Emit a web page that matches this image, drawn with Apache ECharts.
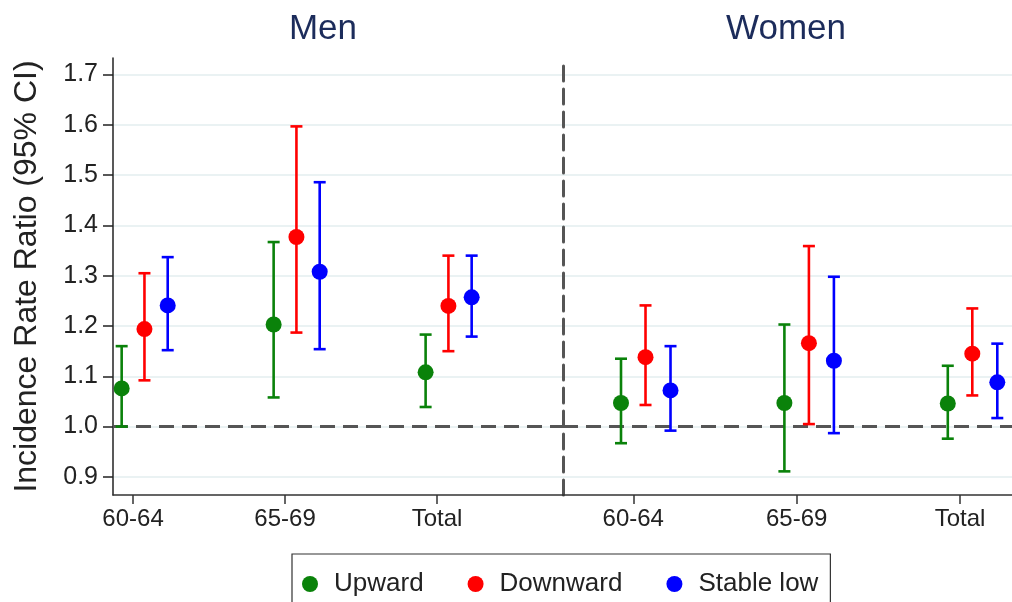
<!DOCTYPE html>
<html>
<head>
<meta charset="utf-8">
<script src="https://cdn.jsdelivr.net/npm/echarts@6/dist/echarts.min.js"></script>
<style>
  html, body { margin: 0; padding: 0; background: #fff; }
  #chart { width: 1012px; height: 602px; }
</style>
</head>
<body>
<div id="chart"></div>
<script>
// ---- data (Men: first three, Women: last three) ----
const categories = ['60-64', '65-69', 'Total'];
const panels = ['Men', 'Women'];
const seriesNames = ['Upward', 'Downward', 'Stable low'];
const yTicks = [0.9, 1.0, 1.1, 1.2, 1.3, 1.4, 1.5, 1.6, 1.7];

const upwardEst  = [1.076, 1.203, 1.108, 1.047, 1.047, 1.046];
const upwardLow  = [1.000, 1.058, 1.039, 0.967, 0.911, 0.976];
const upwardHigh = [1.160, 1.367, 1.183, 1.135, 1.203, 1.121];

const downwardEst  = [1.194, 1.377, 1.240, 1.138, 1.166, 1.145];
const downwardLow  = [1.092, 1.187, 1.150, 1.043, 1.005, 1.062];
const downwardHigh = [1.305, 1.597, 1.340, 1.241, 1.359, 1.235];

const stableEst  = [1.241, 1.308, 1.257, 1.072, 1.131, 1.088];
const stableLow  = [1.152, 1.154, 1.179, 0.992, 0.987, 1.017];
const stableHigh = [1.337, 1.486, 1.340, 1.160, 1.298, 1.165];

// ---- styles / layout ----
const colors = ['#0a820a', '#ff0000', '#0000ff'];
const FONT = '"Liberation Sans", Arial, Helvetica, sans-serif';
const est = [upwardEst, downwardEst, stableEst];
const low = [upwardLow, downwardLow, stableLow];
const high = [upwardHigh, downwardHigh, stableHigh];
const offsets = [-0.075, 0.075, 0.228];
const xRanges = [[0.868, 3.829], [0.57, 3.318]];
const yMin = 0.864, yMax = 1.733;
const DASH = { color: '#555555', width: 3, type: [15, 8] };

const chart = echarts.init(document.getElementById('chart'), null, { renderer: 'canvas' });

const grids = [
  { left: 113, top: 58, width: 450, height: 437 },
  { left: 563, top: 58, width: 449, height: 437 }
];

const xAxes = panels.map((p, gi) => ({
  type: 'value', gridIndex: gi, min: xRanges[gi][0], max: xRanges[gi][1],
  axisLine: { show: true, onZero: false, lineStyle: { color: '#333', width: 1.5 } },
  axisTick: { show: true, length: 9, customValues: [1, 2, 3], lineStyle: { color: '#333', width: 1.5 } },
  axisLabel: {
    show: true, customValues: [1, 2, 3], margin: 12,
    formatter: v => categories[Math.round(v) - 1] || '',
    fontFamily: FONT, fontSize: 24, color: '#222'
  },
  splitLine: { show: false }
}));

const yAxes = panels.map((p, gi) => ({
  type: 'value', gridIndex: gi, min: yMin, max: yMax,
  name: gi === 0 ? 'Incidence Rate Ratio (95% CI)' : '',
  nameLocation: 'middle', nameGap: 70,
  nameTextStyle: { fontFamily: FONT, fontSize: 32, color: '#222' },
  axisLine: gi === 0
    ? { show: true, lineStyle: { color: '#222', width: 1.5 } }
    : { show: true, onZero: false, lineStyle: DASH },
  axisTick: { show: gi === 0, length: 10, customValues: yTicks, lineStyle: { color: '#222', width: 1.5 } },
  axisLabel: {
    show: gi === 0, customValues: yTicks, margin: 15,
    formatter: v => v.toFixed(1),
    fontFamily: FONT, fontSize: 25, color: '#222'
  },
  splitLine: { show: true, lineStyle: { color: '#e3eeef', width: 1.5 } }
}));

const series = [];
// points
seriesNames.forEach((name, si) => {
  panels.forEach((p, gi) => {
    const data = categories.map((c, ci) => [ci + 1 + offsets[si], est[si][gi * 3 + ci]]);
    const s = {
      name, type: 'scatter', xAxisIndex: gi, yAxisIndex: gi,
      symbol: 'circle', symbolSize: 16, z: 5,
      itemStyle: { color: colors[si], opacity: 1 },
      emphasis: { disabled: true },
      data
    };
    if (si === 0) {
      s.markLine = {
        silent: true, symbol: ['none', 'none'], label: { show: false },
        lineStyle: DASH,
        data: [{ yAxis: 1.0 }], z: 3
      };
    }
    series.push(s);
  });
});
// error bars
seriesNames.forEach((name, si) => {
  panels.forEach((p, gi) => {
    const data = categories.map((c, ci) => [ci + 1 + offsets[si], low[si][gi * 3 + ci], high[si][gi * 3 + ci]]);
    series.push({
      name, type: 'custom', xAxisIndex: gi, yAxisIndex: gi, z: 4,
      itemStyle: { color: colors[si] },
      renderItem: (params, api) => {
        const x = api.value(0);
        const a = api.coord([x, api.value(1)]);
        const b = api.coord([x, api.value(2)]);
        const hw = 6;
        const st = { stroke: colors[si], lineWidth: 2.6 };
        return {
          type: 'group',
          children: [
            { type: 'line', shape: { x1: a[0], y1: a[1], x2: b[0], y2: b[1] }, style: st },
            { type: 'line', shape: { x1: a[0] - hw, y1: a[1], x2: a[0] + hw, y2: a[1] }, style: st },
            { type: 'line', shape: { x1: b[0] - hw, y1: b[1], x2: b[0] + hw, y2: b[1] }, style: st }
          ]
        };
      },
      data
    });
  });
});

chart.setOption({
  animation: false,
  backgroundColor: '#ffffff',
  title: [
    { text: panels[0], left: 323, top: 12, padding: 0, textAlign: 'center',
      textStyle: { fontFamily: FONT, fontSize: 35, fontWeight: 'normal', color: '#1c2c5b' } },
    { text: panels[1], left: 786, top: 12, padding: 0, textAlign: 'center',
      textStyle: { fontFamily: FONT, fontSize: 35, fontWeight: 'normal', color: '#1c2c5b' } }
  ],
  legend: {
    data: seriesNames.map((n, i) => ({ name: n, icon: 'circle', itemStyle: { color: colors[i] } })),
    left: 292, top: 554, orient: 'horizontal',
    itemWidth: 16, itemHeight: 16, itemGap: 44,
    padding: [17, 12, 17, 10],
    borderColor: '#333', borderWidth: 1.2, backgroundColor: '#fff',
    textStyle: { fontFamily: FONT, fontSize: 26, color: '#222', padding: [0, 0, 0, 11] }
  },
  grid: grids,
  xAxis: xAxes,
  yAxis: yAxes,
  series
});
</script>
</body>
</html>
